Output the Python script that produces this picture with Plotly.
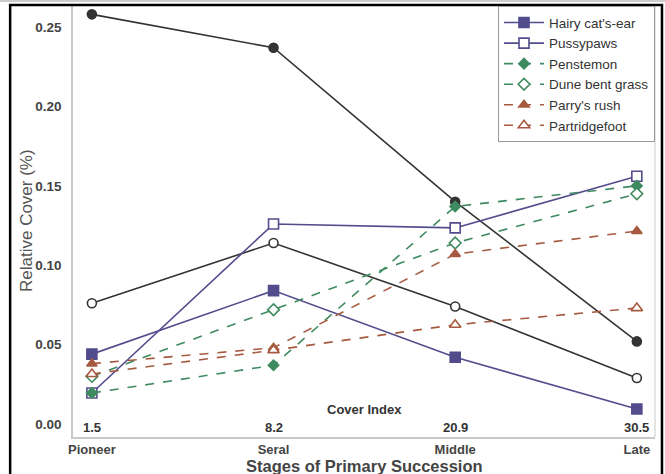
import plotly.graph_objects as go

stages = ["Pioneer", "Seral", "Middle", "Late"]
cover_index = ["1.5", "8.2", "20.9", "30.5"]

black_filled = [0.258, 0.237, 0.140, 0.052]
black_open = [0.076, 0.114, 0.074, 0.029]
hairy_cats_ear = [0.044, 0.084, 0.042, 0.0094]
pussypaws = [0.0195, 0.126, 0.1235, 0.156]
penstemon = [0.0195, 0.037, 0.137, 0.150]
dune_bent_grass = [0.030, 0.072, 0.114, 0.145]
parrys_rush = [0.038, 0.048, 0.107, 0.1215]
partridgefoot = [0.0315, 0.0465, 0.0625, 0.073]

y_ticks = [0.0, 0.05, 0.10, 0.15, 0.20, 0.25]

PURPLE = "#524c8c"
GREEN = "#3f8a60"
BROWN = "#a65b40"
BLACK = "#333333"

xpos = list(range(len(stages)))
fig = go.Figure()

def add(name, y, color, symbol, dash, show=True, size=9, hollow=False):
    fig.add_trace(go.Scatter(
        x=xpos, y=y, name=name, mode="lines+markers",
        line=dict(color=color, width=1.6, dash=dash),
        marker=dict(symbol=symbol, size=size, color="white" if hollow else color,
                    line=dict(color=color, width=1.6)),
        showlegend=show,
    ))

add("black1", black_filled, BLACK, "circle", "solid", show=False, size=9)
add("black2", black_open, BLACK, "circle", "solid", show=False, size=9, hollow=True)
add("Hairy cat's-ear", hairy_cats_ear, PURPLE, "square", "solid", size=10)
add("Pussypaws", pussypaws, PURPLE, "square", "solid", size=10, hollow=True)
add("Penstemon", penstemon, GREEN, "diamond", "dash", size=8)
add("Dune bent grass", dune_bent_grass, GREEN, "diamond", "dash", size=9, hollow=True)
add("Parry's rush", parrys_rush, BROWN, "triangle-up", "dash", size=9)
add("Partridgefoot", partridgefoot, BROWN, "triangle-up", "dash", size=10, hollow=True)

xr = [-0.104, 3.1]
fig.update_layout(
    width=665, height=474,
    margin=dict(l=73, r=10, t=5, b=37, autoexpand=False),
    paper_bgcolor="white", plot_bgcolor="white",
    font=dict(family="Liberation Sans, Arial, sans-serif", color="#444"),
    showlegend=True,
    legend=dict(x=1, y=0.997, xanchor="right", yanchor="top",
                bordercolor="#999", borderwidth=1, bgcolor="white",
                font=dict(size=13.5, color="#333"), tracegroupgap=0,
                itemwidth=40),
    xaxis=dict(range=xr, tickvals=xpos, ticktext=stages, automargin=False,
               showgrid=False, zeroline=False, showline=True, linecolor="#c8c8c8", linewidth=1.5,
               ticks="", ticklen=0, tickfont=dict(size=13, color="#444", weight="bold")),
    yaxis=dict(range=[-0.0082, 0.2639], tickvals=y_ticks, tickformat=".2f", automargin=False,
               showgrid=False, zeroline=False, showline=True, linecolor="#c8c8c8", linewidth=1.5,
               ticks="", ticklabelstandoff=7, tickfont=dict(size=13.5, color="#444", weight="bold")),
)

for xi, ci in zip(xpos, cover_index):
    fig.add_annotation(x=xi, xref="x", y=0.0, yref="y", yshift=-4, text="<b>%s</b>" % ci,
                       showarrow=False, font=dict(size=13, color="#333"))
fig.add_annotation(x=1.5, xref="x", y=0.0, yref="y", yshift=14, text="<b>Cover Index</b>",
                   showarrow=False, font=dict(size=13, color="#333"))
fig.add_annotation(x=0.5, xref="paper", y=0, yref="paper", yshift=-29, yanchor="middle",
                   text="<b>Stages of Primary Succession</b>", showarrow=False,
                   font=dict(size=16.5, color="#444"))
fig.add_annotation(x=0, xref="paper", y=0.5, yref="paper", xshift=-47, xanchor="center",
                   yanchor="middle", textangle=-90,
                   text="Relative Cover (%)", showarrow=False, font=dict(size=17, color="#555"))
# right plot edge
fig.add_shape(type="line", xref="paper", yref="paper", x0=1, x1=1, y0=0, y1=1,
              line=dict(color="#dddddd", width=1.5))
# outer frame
fig.add_shape(type="rect", xref="paper", yref="paper", x0=-0.108, x1=1.012, y0=-0.2, y1=1.0,
              line=dict(color="black", width=2.5), layer="above")
fig.add_shape(type="line", xref="paper", yref="paper", x0=-0.2, x1=1.1, y0=1.009, y1=1.009,
              line=dict(color="#bbbbbb", width=1.5))

fig.write_html("out.html", config={"displayModeBar": False},
               post_script="document.body.style.margin='0';")
